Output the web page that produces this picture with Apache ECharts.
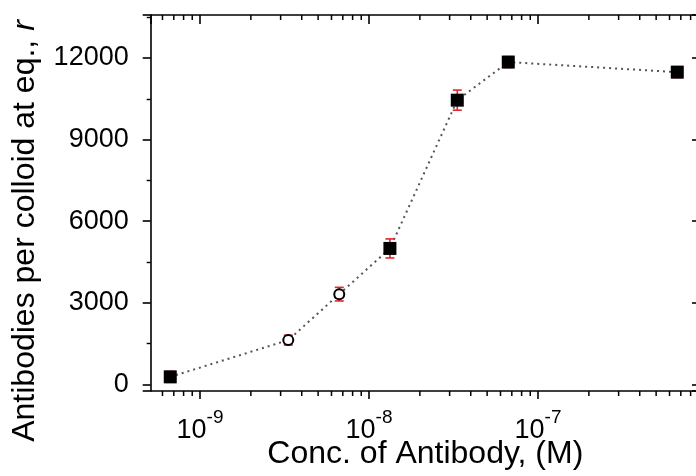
<!DOCTYPE html>
<html>
<head>
<meta charset="utf-8">
<script src="https://cdn.jsdelivr.net/npm/echarts@6/dist/echarts.min.js"></script>
<style>
html,body{margin:0;padding:0;background:#fff;}
#chart{width:696px;height:476px;}
</style>
</head>
<body>
<div id="chart"></div>
<script>
// ---- data ----
const concSolid = [6.67e-10, 1.33e-8, 3.33e-8, 6.67e-8, 6.67e-7];
const rSolid    = [280, 5000, 10450, 11850, 11480];
const errSolid  = [200, 350, 370, 200, 200];

const concOpen  = [3.33e-9, 6.67e-9];
const rOpen     = [1630, 3320];
const errOpen   = [180, 250];

const xMin = 5.11e-10, xMax = 9.09e-7;
const yMin = -240, yMax = 13580;
const yMajorStep = 3000;
const xMinorTicks = [6e-10, 7e-10, 8e-10, 9e-10,
  2e-9, 3e-9, 4e-9, 5e-9, 6e-9, 7e-9, 8e-9, 9e-9,
  2e-8, 3e-8, 4e-8, 5e-8, 6e-8, 7e-8, 8e-8, 9e-8,
  2e-7, 3e-7, 4e-7, 5e-7, 6e-7, 7e-7, 8e-7, 9e-7];

const xTitle = 'Conc. of Antibody, (M)';
const yTitle = 'Antibodies per colloid at eq., ';
const yTitleVar = 'r';

// ---- build ----
const FONT = "'Liberation Sans', Arial, sans-serif";
const allPts = concSolid.map((c, i) => [c, rSolid[i]])
  .concat(concOpen.map((c, i) => [c, rOpen[i]]))
  .sort((a, b) => a[0] - b[0]);
const errData = concSolid.map((c, i) => [c, rSolid[i] - errSolid[i], rSolid[i] + errSolid[i]])
  .concat(concOpen.map((c, i) => [c, rOpen[i] - errOpen[i], rOpen[i] + errOpen[i]]));

function isDecade(v) {
  const l = Math.log10(v);
  return Math.abs(l - Math.round(l)) < 1e-6;
}

const chart = echarts.init(document.getElementById('chart'), null, {renderer: 'canvas'});
const option = {
  animation: false,
  backgroundColor: '#ffffff',
  grid: {left: 150.7, top: 15, right: -4, bottom: 85, containLabel: false, outerBoundsMode: 'none'},
  xAxis: [{
    type: 'log', min: xMin, max: xMax, position: 'bottom',
    name: xTitle, nameLocation: 'middle', nameGap: 47, nameMoveOverlap: false,
    nameTextStyle: {fontFamily: FONT, fontSize: 32, color: '#000'},
    axisLine: {show: true, onZero: false, lineStyle: {color: '#000', width: 1.6}},
    axisTick: {show: true, inside: false, length: 8, lineStyle: {color: '#000', width: 1.6}},
    splitLine: {show: false},
    axisLabel: {
      show: true, margin: 17, showMinLabel: false, showMaxLabel: false,
      formatter: function (v) {
        if (!isDecade(v)) return '';
        return '{b|10}{s|' + Math.round(Math.log10(v)) + '}';
      },
      rich: {
        b: {fontFamily: FONT, fontSize: 27, color: '#000', lineHeight: 36, verticalAlign: 'bottom'},
        s: {fontFamily: FONT, fontSize: 19, color: '#000', lineHeight: 19, verticalAlign: 'top'}
      }
    }
  }, {
    type: 'log', min: xMin, max: xMax, position: 'top',
    axisLine: {show: true, onZero: false, lineStyle: {color: '#000', width: 1.6}},
    axisTick: {show: true, inside: true, length: 9, lineStyle: {color: '#000', width: 1.6}},
    axisLabel: {show: false},
    splitLine: {show: false}
  }],
  yAxis: [{
    type: 'value', min: yMin, max: yMax, splitNumber: 5, position: 'left',
    name: yTitle + '{i|' + yTitleVar + '}', nameLocation: 'middle', nameGap: 110, nameMoveOverlap: false,
    nameTextStyle: {fontFamily: FONT, fontSize: 32, color: '#000', padding: [0, 56, 0, 0],
      rich: {i: {fontFamily: FONT, fontSize: 32, color: '#000', fontStyle: 'italic'}}},
    axisLine: {show: true, onZero: false, lineStyle: {color: '#000', width: 1.6}},
    axisTick: {show: true, inside: false, length: 8, lineStyle: {color: '#000', width: 1.6}},
    minorTick: {show: true, splitNumber: 2, length: 4, lineStyle: {color: '#000', width: 1.4}},
    splitLine: {show: false},
    minorSplitLine: {show: false},
    axisLabel: {
      margin: 22, fontFamily: FONT, fontSize: 27, color: '#000',
      showMinLabel: false, showMaxLabel: false,
      formatter: function (v) { return (v % yMajorStep === 0) ? String(v) : ''; }
    }
  }, {
    type: 'value', min: yMin, max: yMax, splitNumber: 5, position: 'right',
    axisLine: {show: true, onZero: false, lineStyle: {color: '#000', width: 1.6}},
    axisTick: {show: true, inside: true, length: 8, lineStyle: {color: '#000', width: 1.6}},
    axisLabel: {show: false},
    splitLine: {show: false}
  }],
  series: [{
    type: 'custom', name: 'minorX', xAxisIndex: 0, yAxisIndex: 0, z: 5, silent: true,
    data: xMinorTicks.map(v => [v, 0]),
    renderItem: function (params, api) {
      const cs = params.coordSys;
      const x = api.coord([api.value(0), 0])[0];
      const yb = cs.y + cs.height, yt = cs.y;
      return {type: 'group', children: [
        {type: 'line', shape: {x1: x, y1: yb, x2: x, y2: yb + 5}, style: {stroke: '#000', lineWidth: 1.5}},
        {type: 'line', shape: {x1: x, y1: yt, x2: x, y2: yt + 5}, style: {stroke: '#000', lineWidth: 1.5}}
      ]};
    }
  }, {
    type: 'line', name: 'trend', data: allPts, symbol: 'none', z: 2,
    lineStyle: {color: '#555', width: 2, type: [2, 4]}
  }, {
    type: 'custom', name: 'err', z: 3,
    data: errData,
    encode: {x: 0, y: [1, 2]},
    renderItem: function (params, api) {
      const x = api.value(0);
      const p1 = api.coord([x, api.value(1)]);
      const p2 = api.coord([x, api.value(2)]);
      const w = 4.5;
      const st = {stroke: '#e3242b', lineWidth: 1.6};
      return {type: 'group', children: [
        {type: 'line', shape: {x1: p1[0], y1: p1[1], x2: p2[0], y2: p2[1]}, style: st},
        {type: 'line', shape: {x1: p1[0] - w, y1: p1[1], x2: p1[0] + w, y2: p1[1]}, style: st},
        {type: 'line', shape: {x1: p2[0] - w, y1: p2[1], x2: p2[0] + w, y2: p2[1]}, style: st}
      ]};
    }
  }, {
    type: 'scatter', name: 'solid', z: 4,
    data: concSolid.map((c, i) => [c, rSolid[i]]),
    symbol: 'rect', symbolSize: 13,
    itemStyle: {color: '#000', opacity: 1}
  }, {
    type: 'scatter', name: 'open', z: 4,
    data: concOpen.map((c, i) => [c, rOpen[i]]),
    symbol: 'circle', symbolSize: 10,
    itemStyle: {color: '#fff', borderColor: '#000', borderWidth: 2, opacity: 1}
  }]
};
chart.setOption(option);
</script>
</body>
</html>
